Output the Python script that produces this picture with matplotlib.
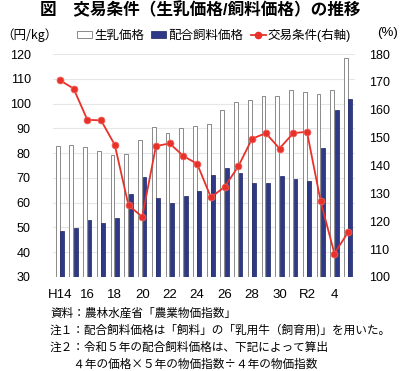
import matplotlib
matplotlib.use("Agg")
import matplotlib.pyplot as plt
from matplotlib.patches import Patch
from matplotlib.lines import Line2D

plt.rcParams['font.family'] = ['Liberation Sans', 'Noto Sans CJK JP', 'DejaVu Sans']

# fiscal years H14 .. R5
years = ["H14", "15", "16", "17", "18", "19", "20", "21", "22", "23", "24",
         "25", "26", "27", "28", "29", "30", "R1", "R2", "3", "4", "5"]
tick_labels = ["H14", "16", "18", "20", "22", "24", "26", "28", "30", "R2", "4"]

milk_price = [82.9, 83.3, 82.5, 80.9, 79.1, 79.5, 85.1, 90.5, 88.3, 90.0, 91.0,
              91.7, 97.4, 100.7, 101.3, 103.1, 103.2, 105.4, 104.6, 103.8, 105.6, 118.2]
feed_price = [48.7, 49.8, 52.9, 51.8, 53.7, 63.4, 70.2, 61.8, 59.9, 62.8, 64.7,
              71.2, 73.9, 72.1, 67.9, 68.1, 70.8, 69.7, 68.9, 81.9, 97.5, 102.0]
terms_of_trade = [170.6, 167.6, 156.4, 156.2, 147.4, 125.7, 121.6, 147.0, 147.9, 143.4, 140.6,
                  128.6, 132.3, 139.7, 149.6, 151.6, 146.1, 151.6, 152.1, 127.1, 108.4, 116.1]

navy = "#2E3A87"
red = "#E8312A"

fig = plt.figure(figsize=(4.0, 3.71), dpi=100)
ax = fig.add_axes([0.1325, 0.2534, 0.755, 0.601])
ax2 = ax.twinx()

x = list(range(len(years)))
w = 0.28
ax.bar([i - 0.16 for i in x], [v - 30 for v in milk_price], bottom=30, width=w,
       color="white", edgecolor="#777777", linewidth=0.6, zorder=2)
ax.bar([i + 0.16 for i in x], [v - 30 for v in feed_price], bottom=30, width=w,
       color=navy, edgecolor="#1A2260", linewidth=0.5, zorder=2)

ax2.plot(x, terms_of_trade, color=red, linewidth=1.3, marker='o', markersize=5,
         markerfacecolor=red, markeredgecolor="#F26A60", markeredgewidth=0.5, zorder=3)

ax.set_xlim(-0.5, len(years) - 0.5)
ax.set_ylim(30, 120)
ax.set_yticks(range(30, 121, 10))
ax2.set_ylim(100, 180)
ax2.set_yticks(range(100, 181, 10))
ax.set_xticks(x[::2])
ax.set_xticklabels(tick_labels)
ax.grid(axis='y', color="#E6E6E6", linewidth=0.8, zorder=0)
ax.set_axisbelow(True)

for a in (ax, ax2):
    for s in a.spines.values():
        s.set_visible(False)
    a.tick_params(length=0, labelsize=9)
ax.tick_params(axis='y', pad=16)
ax2.tick_params(axis='y', pad=10)
ax.tick_params(axis='x', labelsize=9.5, pad=9)

fig.text(0.5, 0.972, "図\u3000交易条件（生乳価格/飼料価格）の推移", ha='center', va='center',
         fontsize=12, fontweight='bold')
fig.text(0.002, 0.905, "（円/kg）", ha='left', va='center', fontsize=9,
         family=['Noto Sans CJK JP'])
fig.text(0.995, 0.91, "(%)", ha='right', va='center', fontsize=9.5)

handles = [Patch(facecolor="white", edgecolor="#777777", linewidth=0.6),
           Patch(facecolor=navy, edgecolor="#1A2260", linewidth=0.5),
           Line2D([0], [0], color=red, linewidth=1.3, marker='o', markersize=4.5)]
labels = ["生乳価格", "配合飼料価格", "交易条件(右軸)"]
fig.legend(handles, labels, loc='center', bbox_to_anchor=(0.535, 0.905), ncol=3,
           frameon=False, fontsize=9, handlelength=1.2, handleheight=0.5,
           handletextpad=0.15, columnspacing=0.6, borderpad=0)

notes = ["資料：農林水産省「農業物価指数」",
         "注１：配合飼料価格は「飼料」の「乳用牛（飼育用)」を用いた。",
         "注２：令和５年の配合飼料価格は、下記によって算出",
         "　　４年の価格×５年の物価指数÷４年の物価指数"]
ys = [313, 330, 347, 364]
for t, yy in zip(notes, ys):
    fig.text(50 / 400, 1 - yy / 371, t, ha='left', va='center', fontsize=8.4,
             family=['Noto Sans CJK JP'])

fig.savefig("out.png", dpi=100)
